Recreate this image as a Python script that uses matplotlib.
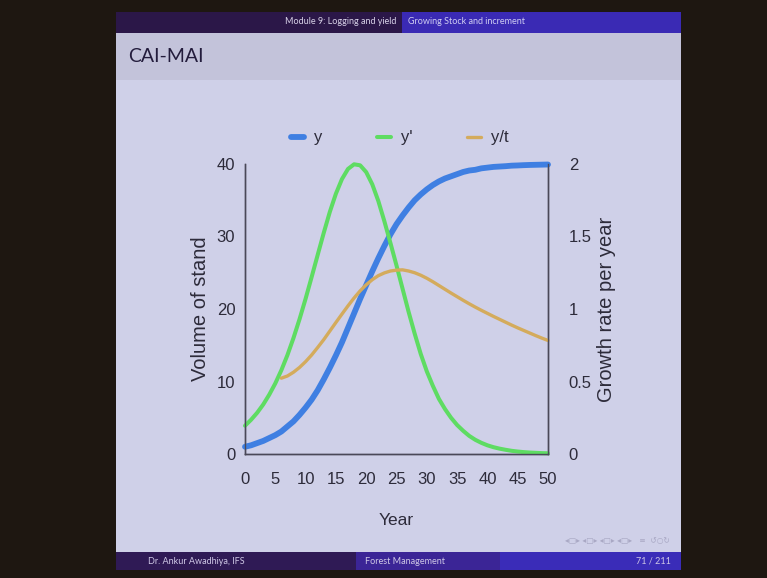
import matplotlib
matplotlib.use("Agg")
import matplotlib.pyplot as plt
from matplotlib.patches import Rectangle

# values (year 0..50)
years = list(range(0, 51))
volume = [1.0, 1.2, 1.5, 1.8, 2.2, 2.6, 3.1, 3.8, 4.5, 5.4,
          6.4, 7.5, 8.8, 10.3, 11.9, 13.6, 15.4, 17.4, 19.4, 21.4,
          23.3, 25.2, 27.0, 28.7, 30.3, 31.7, 32.9, 34.0, 35.0, 35.8,
          36.5, 37.1, 37.6, 38.0, 38.3, 38.6, 38.9, 39.1, 39.2, 39.4,
          39.5, 39.6, 39.65, 39.7, 39.77, 39.8, 39.84, 39.87, 39.89, 39.91,
          39.93]
cai = [0.195, 0.236, 0.284, 0.341, 0.409, 0.487, 0.578, 0.682, 0.800, 0.930,
       1.071, 1.221, 1.374, 1.526, 1.670, 1.795, 1.896, 1.966, 1.998, 1.991,
       1.944, 1.860, 1.745, 1.605, 1.455, 1.300, 1.140, 0.980, 0.830, 0.690,
       0.570, 0.470, 0.380, 0.310, 0.250, 0.200, 0.160, 0.125, 0.098, 0.077,
       0.060, 0.047, 0.037, 0.029, 0.022, 0.017, 0.013, 0.010, 0.008, 0.006,
       0.005]
mai_years = list(range(6, 51))
mai = [0.523, 0.538, 0.564, 0.597, 0.637, 0.683, 0.735, 0.789, 0.848, 0.907,
       0.965, 1.022, 1.076, 1.125, 1.167, 1.202, 1.230, 1.249, 1.262, 1.268,
       1.270, 1.262, 1.250, 1.233, 1.212, 1.188, 1.162, 1.136, 1.110, 1.085,
       1.060, 1.036, 1.013, 0.991, 0.970, 0.949, 0.929, 0.909, 0.889, 0.870,
       0.852, 0.834, 0.816, 0.799, 0.783]

xticks = [0, 5, 10, 15, 20, 25, 30, 35, 40, 45, 50]
left_ticks = [0, 10, 20, 30, 40]
right_ticks = [0, 0.5, 1, 1.5, 2]
right_labels = ["0", "0.5", "1", "1.5", "2"]

W, H = 767, 578
fig = plt.figure(figsize=(W / 100, H / 100), dpi=100)
fig.patch.set_facecolor("#1e1711")

def box(x0, y0, x1, y1, color):
    # pixel coords (top-left origin) -> figure rectangle
    fig.add_artist(Rectangle((x0 / W, 1 - y1 / H), (x1 - x0) / W, (y1 - y0) / H,
                             transform=fig.transFigure, facecolor=color,
                             edgecolor="none", zorder=0))

def txt(x, y, s, **kw):
    fig.text(x / W, 1 - y / H, s, **kw)

# slide
box(116, 12, 681, 570, "#cfd0e8")
box(116, 33, 681, 80, "#c3c3da")
box(116, 12, 402, 33, "#2b1748")
box(402, 12, 681, 33, "#3a2ab4")
box(116, 552, 356, 570, "#2f1a55")
box(356, 552, 500, 570, "#3b2596")
box(500, 552, 681, 570, "#3a2cb8")

txt(396, 22, "Module 9: Logging and yield", color="#d8d2e8", fontsize=6.5,
    family="Lato", ha="right", va="center")
txt(408, 22, "Growing Stock and increment", color="#cfcdf2", fontsize=6.5,
    family="Lato", ha="left", va="center")
txt(128, 57, "CAI-MAI", color="#231c3c", fontsize=14, family="Lato",
    ha="left", va="center")
txt(196, 561, "Dr. Ankur Awadhiya, IFS", color="#cfc8e6", fontsize=6.5,
    family="Lato", ha="center", va="center")
txt(405, 561, "Forest Management", color="#cfc8e6", fontsize=6.5,
    family="Lato", ha="center", va="center")
txt(671, 561, "71 / 211", color="#cfc8e6", fontsize=6.5,
    family="Lato", ha="right", va="center")
txt(670, 541, "\u25c2\u25a1\u25b8 \u25c2\u25a1\u25b8 \u25c2\u25a1\u25b8 \u25c2\u25a1\u25b8   \u2261  \u21ba\u25cb\u21bb",
    color="#a9a8c4", fontsize=5.5, family="DejaVu Sans", ha="right", va="center")

# chart
ax = fig.add_axes([245 / W, 1 - 454 / H, 303 / W, 290 / H])
ax.set_facecolor("none")
ax2 = ax.twinx()

blue = "#3f7fe2"
green = "#5edc62"
orange = "#d4ab5c"

ln1, = ax.plot(years, volume, color=blue, lw=4.2, solid_capstyle="round",
               clip_on=False, zorder=3, label="y")
ln2, = ax2.plot(years, cai, color=green, lw=2.9, solid_capstyle="round",
                clip_on=False, label="y'")
ln3, = ax2.plot(mai_years, mai, color=orange, lw=2.4, solid_capstyle="round",
                clip_on=False, label="y/t")

ax.set_xlim(0, 50)
ax.set_ylim(0, 40)
ax2.set_ylim(0, 2)

tfont = dict(family="Liberation Sans", fontsize=12, color="#2d2b3a")
ax.set_xticks(xticks)
ax.set_xticklabels([str(v) for v in xticks], **tfont)
ax.set_yticks(left_ticks)
ax.set_yticklabels([str(v) for v in left_ticks], **tfont)
ax2.set_yticks(right_ticks)
ax2.set_yticklabels(right_labels, **tfont)
ax.tick_params(axis="x", length=0, pad=13)
ax.tick_params(axis="y", length=0, pad=7)
ax2.tick_params(length=0, pad=15)

for a in (ax, ax2):
    a.spines["top"].set_visible(False)
    for s in ("left", "right", "bottom"):
        a.spines[s].set_color("#4a4858")
        a.spines[s].set_linewidth(1.0)

ax.set_ylabel("Volume of stand", labelpad=5, family="Liberation Sans",
              fontsize=14.5, color="#2d2b3a")
ax2.set_ylabel("Growth rate per year", labelpad=4, family="Liberation Sans",
               fontsize=14.5, color="#2d2b3a")
ax.set_xlabel("Year", labelpad=19, family="Liberation Sans", fontsize=12.5,
              color="#2d2b3a")

leg = ax.legend(handles=[ln1, ln2, ln3], loc="center",
                bbox_to_anchor=(0.51, 1.09), ncol=3, frameon=False,
                handlelength=0.8, columnspacing=3.3, handletextpad=0.6,
                prop={"family": "Liberation Sans", "size": 12})
for t in leg.get_texts():
    t.set_color("#2d2b3a")

fig.savefig("out.png", dpi=100, facecolor=fig.get_facecolor())
